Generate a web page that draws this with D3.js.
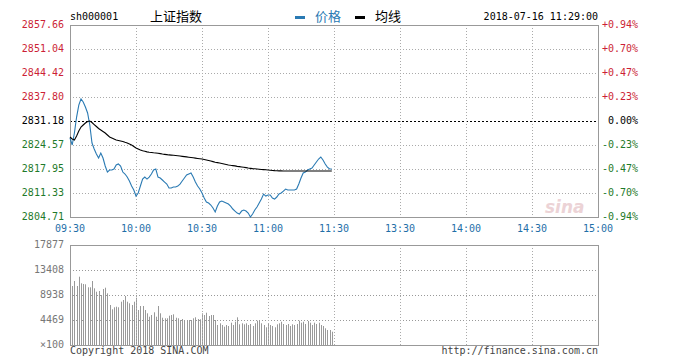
<!DOCTYPE html>
<html>
<head>
<meta charset="utf-8">
<script src="https://cdn.jsdelivr.net/npm/d3@7"></script>
<style>
  body { margin: 0; background: #fff; }
  text { font-family: "DejaVu Sans Mono", monospace; font-size: 10px; }
</style>
</head>
<body>
<script>
/* Datos (minuto a minuto 09:30 - 11:29) */
const codigo = "sh000001";
const nombre = "上证指数";
const fechaHora = "2018-07-16 11:29:00";
const cierrePrevio = 2831.18;

const horas = ["09:30", "10:00", "10:30", "11:00", "11:30", "13:30", "14:00", "14:30", "15:00"];
const ticksPrecio = [2857.66, 2851.04, 2844.42, 2837.80, 2831.18, 2824.57, 2817.95, 2811.33, 2804.71];
const ticksPct = ["+0.94%", "+0.70%", "+0.47%", "+0.23%", "0.00%", "-0.23%", "-0.47%", "-0.70%", "-0.94%"];
const ticksVol = ["17877", "13408", "8938", "4469", "×100"];
const valoresVol = [17877, 13408, 8938, 4469, 0];

const precios = [
  2826.49, 2824.56, 2827.87, 2832.28, 2835.59, 2837.25, 2836.42, 2835.04, 2833.39, 2830.08,
  2825.11, 2823.46, 2822.08, 2820.97, 2822.35, 2820.97, 2818.77, 2817.11, 2817.66, 2817.66,
  2817.94, 2819.04, 2819.32, 2818.77, 2817.11, 2816.56, 2815.73, 2814.63, 2813.25, 2812.15,
  2810.49, 2811.32, 2813.25, 2815.18, 2815.73, 2815.18, 2815.73, 2816.56, 2817.66, 2817.94,
  2815.73, 2815.46, 2814.91, 2814.35, 2813.80, 2812.70, 2812.70, 2812.98, 2812.98, 2813.25,
  2813.80, 2814.63, 2815.46, 2816.29, 2816.56, 2816.84, 2815.73, 2814.35, 2813.25, 2812.42,
  2811.32, 2809.94, 2808.84, 2808.56, 2808.01, 2807.18, 2806.08, 2807.73, 2808.84, 2809.11,
  2808.84, 2808.56, 2808.29, 2807.73, 2806.91, 2806.35, 2805.80, 2805.53, 2806.35, 2806.63,
  2806.35, 2805.80, 2804.70, 2805.53, 2806.63, 2807.46, 2808.56, 2809.66, 2811.04, 2810.49,
  2810.77, 2810.77, 2809.94, 2809.66, 2810.22, 2811.04, 2811.32, 2811.87, 2812.42, 2812.15,
  2812.15, 2812.15, 2812.15, 2812.42, 2813.80, 2815.46, 2816.84, 2817.11, 2817.66, 2817.94,
  2818.22, 2819.04, 2819.87, 2820.70, 2821.25, 2820.42, 2819.32, 2818.49, 2817.94, 2817.94
];

const promedio = [
  2826.77, 2826.22, 2825.94, 2827.04, 2828.42, 2829.53, 2830.08, 2830.63, 2831.04, 2831.18,
  2830.77, 2830.21, 2829.66, 2829.11, 2828.70, 2828.28, 2827.87, 2827.32, 2826.77, 2826.49,
  2826.22, 2825.94, 2825.80, 2825.66, 2825.53, 2825.30, 2825.11, 2824.84, 2824.56, 2824.15,
  2823.73, 2823.46, 2823.18, 2822.96, 2822.82, 2822.68, 2822.57, 2822.49, 2822.41, 2822.35,
  2822.27, 2822.19, 2822.08, 2821.99, 2821.91, 2821.83, 2821.77, 2821.72, 2821.66, 2821.61,
  2821.53, 2821.44, 2821.36, 2821.28, 2821.19, 2821.11, 2821.03, 2820.95, 2820.86, 2820.78,
  2820.70, 2820.56, 2820.42, 2820.28, 2820.15, 2819.98, 2819.82, 2819.71, 2819.60, 2819.48,
  2819.35, 2819.21, 2819.07, 2818.96, 2818.88, 2818.80, 2818.68, 2818.60, 2818.52, 2818.44,
  2818.33, 2818.22, 2818.13, 2818.05, 2818.00, 2817.94, 2817.88, 2817.83, 2817.77, 2817.72,
  2817.66, 2817.61, 2817.55, 2817.50, 2817.47, 2817.44, 2817.42, 2817.39, 2817.39, 2817.39,
  2817.39, 2817.39, 2817.39, 2817.39, 2817.39, 2817.39, 2817.39, 2817.39, 2817.39, 2817.39,
  2817.39, 2817.39, 2817.39, 2817.39, 2817.39, 2817.39, 2817.39, 2817.39, 2817.39, 2817.39
];

const volumen = [
  17877, 10547, 11441, 10547, 12210, 11030, 10905, 10851, 10315, 10315,
  11441, 10136, 9528, 9654, 8939, 10011, 10244, 9242, 7151, 6382,
  6740, 6847, 6740, 7741, 8045, 8760, 7741, 7455, 7151, 7741,
  8456, 6257, 6972, 6972, 6257, 5667, 5059, 5363, 5846, 5059,
  6972, 5667, 4880, 4773, 4773, 5238, 5363, 5488, 4880, 4773,
  4469, 4648, 4469, 4344, 4469, 4469, 4773, 4952, 4648, 4594,
  5667, 5363, 5774, 5184, 5363, 5363, 4469, 3575, 3879, 3575,
  3271, 3575, 3397, 3987, 3575, 4165, 4952, 3701, 3879, 3701,
  3879, 3575, 3754, 3397, 3879, 4344, 4344, 3879, 3575, 3164,
  3879, 3575, 3397, 3164, 3701, 3879, 4165, 3754, 3575, 3754,
  3397, 3701, 3575, 3754, 4344, 3987, 4165, 3754, 4290, 3987,
  3575, 3987, 3754, 3987, 3575, 3397, 2985, 2682, 2682, 2378
];

let width = 679;
let height = 359;

let margin = { left: 70, right: 81 };
let precioTop = 25, precioBottom = 217;
let volTop = 245, volBottom = 345;

const rojo = "#cc1f36", verde = "#1f7a2a", azul = "#2a7ab3", azulTexto = "#1f6fa8";

/* Escalas */
let escalaX = d3.scaleLinear().domain([0, 240]).range([margin.left, width - margin.right]);
let escalaY = d3.scaleLinear().domain([2804.71, 2857.66]).range([precioBottom, precioTop]);
let escalaVol = d3.scaleLinear().domain([0, 17877]).range([volBottom, volTop]);
const minutosEje = horas.map((h, i) => i * 30);

let elementoSVG = d3.select("body").append("svg")
  .attr("width", width).attr("height", height);

function colorPrecio(v) {
  if (Math.abs(v - cierrePrevio) < 0.005) return "#000";
  return v > cierrePrevio ? rojo : verde;
}

/* Cabecera */
elementoSVG.append("text").attr("x", 70).attr("y", 17).attr("dominant-baseline", "middle")
  .text(codigo);
elementoSVG.append("text").attr("x", 150).attr("y", 17).attr("dominant-baseline", "middle")
  .style("font-family", "'Noto Sans CJK SC', sans-serif").style("font-size", "13px")
  .text(nombre);
elementoSVG.append("rect").attr("x", 295).attr("y", 16).attr("width", 10).attr("height", 3).attr("fill", azul);
elementoSVG.append("text").attr("x", 315).attr("y", 17).attr("dominant-baseline", "middle")
  .style("font-family", "'Noto Sans CJK SC', sans-serif").style("font-size", "13px")
  .attr("fill", azul).text("价格");
elementoSVG.append("rect").attr("x", 355).attr("y", 16).attr("width", 10).attr("height", 3).attr("fill", "#000");
elementoSVG.append("text").attr("x", 375).attr("y", 17).attr("dominant-baseline", "middle")
  .style("font-family", "'Noto Sans CJK SC', sans-serif").style("font-size", "13px")
  .text("均线");
elementoSVG.append("text").attr("x", 598).attr("y", 17).attr("dominant-baseline", "middle")
  .attr("text-anchor", "end").text(fechaHora);

/* Rejilla del panel de precio */
let gPrecio = elementoSVG.append("g");
gPrecio.selectAll("line.h").data(ticksPrecio.slice(1, -1)).join("line")
  .attr("x1", margin.left).attr("x2", width - margin.right)
  .attr("y1", d => Math.round(escalaY(d)) + 0.5).attr("y2", d => Math.round(escalaY(d)) + 0.5)
  .attr("stroke", d => d === cierrePrevio ? "#000" : "#aaa")
  .attr("stroke-dasharray", d => d === cierrePrevio ? "2,2" : "1,2");
gPrecio.selectAll("line.v").data(minutosEje.slice(1, -1)).join("line")
  .attr("x1", d => Math.round(escalaX(d)) + 0.5).attr("x2", d => Math.round(escalaX(d)) + 0.5)
  .attr("y1", precioTop).attr("y2", precioBottom)
  .attr("stroke", "#aaa").attr("stroke-dasharray", "1,2");

/* Marca de agua */
elementoSVG.append("text").attr("x", 545).attr("y", 213)
  .style("font-family", "'DejaVu Sans', sans-serif").style("font-size", "17px")
  .style("font-style", "italic").style("font-weight", "bold")
  .attr("fill", "#ecd3d6").text("sina");

gPrecio.append("rect").attr("x", margin.left + 0.5).attr("y", precioTop + 0.5)
  .attr("width", width - margin.right - margin.left).attr("height", precioBottom - precioTop)
  .attr("fill", "none").attr("stroke", "#999");

/* Etiquetas eje Y */
elementoSVG.append("g").selectAll("text").data(ticksPrecio).join("text")
  .attr("x", 64).attr("y", d => escalaY(d)).attr("text-anchor", "end")
  .attr("dominant-baseline", "middle").attr("fill", d => colorPrecio(d))
  .text(d => d.toFixed(2));
elementoSVG.append("g").selectAll("text").data(ticksPct).join("text")
  .attr("x", 638).attr("y", (d, i) => escalaY(ticksPrecio[i])).attr("text-anchor", "end")
  .attr("dominant-baseline", "middle").attr("fill", (d, i) => colorPrecio(ticksPrecio[i]))
  .text(d => d);

/* Eje de horas */
elementoSVG.append("g").selectAll("text").data(horas).join("text")
  .attr("x", (d, i) => escalaX(minutosEje[i])).attr("y", 229)
  .attr("text-anchor", "middle").attr("dominant-baseline", "middle")
  .attr("fill", azulTexto).text(d => d);

/* Lineas de precio y media */
let linea = d3.line().x((d, i) => escalaX(i)).y(d => escalaY(d));
elementoSVG.append("path").datum(precios).attr("d", linea)
  .attr("fill", "none").attr("stroke", azul).attr("stroke-width", 1.1);
elementoSVG.append("path").datum(promedio).attr("d", linea)
  .attr("fill", "none").attr("stroke", "#000").attr("stroke-width", 1.1);

/* Panel de volumen */
let gVol = elementoSVG.append("g");
gVol.selectAll("rect.bar").data(volumen).join("rect")
  .attr("x", (d, i) => Math.round(escalaX(i)))
  .attr("y", d => escalaVol(d)).attr("width", 1)
  .attr("height", d => volBottom - escalaVol(d)).attr("fill", "#999");
gVol.selectAll("line.h").data(valoresVol.slice(1, -1)).join("line")
  .attr("x1", margin.left).attr("x2", width - margin.right)
  .attr("y1", d => Math.round(escalaVol(d)) + 0.5).attr("y2", d => Math.round(escalaVol(d)) + 0.5)
  .attr("stroke", "#999").attr("stroke-dasharray", "1,2");
gVol.selectAll("line.v").data(minutosEje.slice(1, -1)).join("line")
  .attr("x1", d => Math.round(escalaX(d)) + 0.5).attr("x2", d => Math.round(escalaX(d)) + 0.5)
  .attr("y1", volTop).attr("y2", volBottom)
  .attr("stroke", "#aaa").attr("stroke-dasharray", "1,2");
gVol.append("rect").attr("x", margin.left + 0.5).attr("y", volTop + 0.5)
  .attr("width", width - margin.right - margin.left).attr("height", volBottom - volTop)
  .attr("fill", "none").attr("stroke", "#999");

elementoSVG.append("g").selectAll("text").data(ticksVol).join("text")
  .attr("x", 64).attr("y", (d, i) => escalaVol(valoresVol[i]))
  .attr("text-anchor", "end").attr("dominant-baseline", "middle")
  .attr("fill", "#777").text(d => d);

/* Pie */
elementoSVG.append("text").attr("x", 70).attr("y", 351).attr("dominant-baseline", "middle")
  .attr("fill", "#444").text("Copyright 2018 SINA.COM");
elementoSVG.append("text").attr("x", 598).attr("y", 351).attr("dominant-baseline", "middle")
  .attr("text-anchor", "end").attr("fill", "#444").text("http://finance.sina.com.cn");
</script>
</body>
</html>
